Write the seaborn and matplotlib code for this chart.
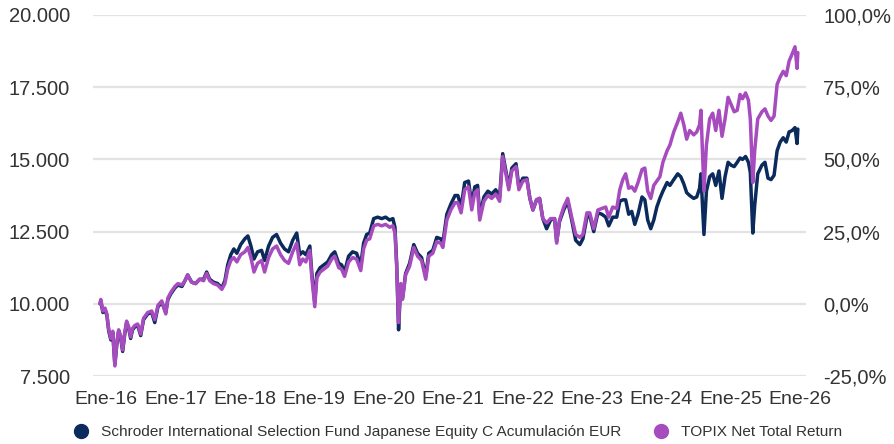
import matplotlib
matplotlib.use("Agg")
import matplotlib.pyplot as plt
import matplotlib.dates as mdates
from matplotlib.lines import Line2D
from matplotlib.ticker import FixedLocator, FuncFormatter
import seaborn as sns
import pandas as pd

fund_name = "Schroder International Selection Fund Japanese Equity C Acumulación EUR"
index_name = "TOPIX Net Total Return"

# values (base 10.000)
dates = [
    "2015-12-01", "2015-12-05", "2015-12-16", "2015-12-27",
    "2016-01-06", "2016-01-16", "2016-01-27", "2016-02-06", "2016-02-17", "2016-02-28",
    "2016-03-08", "2016-03-18", "2016-03-29", "2016-04-09", "2016-04-19", "2016-04-30",
    "2016-05-10", "2016-05-20", "2016-06-01", "2016-06-16", "2016-07-02", "2016-07-17",
    "2016-08-08", "2016-08-29", "2016-09-14", "2016-10-01", "2016-10-21", "2016-11-11",
    "2016-11-22", "2016-12-08", "2016-12-29",
    "2017-01-14", "2017-02-04", "2017-02-20", "2017-03-06", "2017-03-27", "2017-04-17",
    "2017-05-08", "2017-05-29", "2017-06-14", "2017-06-30", "2017-07-20", "2017-08-11",
    "2017-09-02", "2017-09-18", "2017-10-03", "2017-10-19", "2017-11-04", "2017-11-20",
    "2017-12-10",
    "2018-01-01", "2018-01-17", "2018-02-02", "2018-02-18", "2018-03-09", "2018-03-30",
    "2018-04-15", "2018-05-06", "2018-05-27", "2018-06-17", "2018-07-08", "2018-07-29",
    "2018-08-19", "2018-09-10", "2018-10-01", "2018-10-17", "2018-11-02", "2018-11-18",
    "2018-12-09", "2018-12-19",
    "2019-01-04", "2019-01-15", "2019-02-01", "2019-02-21", "2019-03-13", "2019-04-03",
    "2019-04-19", "2019-05-10", "2019-05-25", "2019-06-10", "2019-07-01", "2019-07-22",
    "2019-08-12", "2019-09-03", "2019-09-18", "2019-10-04", "2019-10-20", "2019-11-10",
    "2019-12-01", "2019-12-22",
    "2020-01-12", "2020-02-02", "2020-02-19", "2020-03-01", "2020-03-10", "2020-03-20",
    "2020-03-31", "2020-04-10", "2020-04-26", "2020-05-17", "2020-06-08", "2020-06-28",
    "2020-07-19", "2020-08-10", "2020-08-26", "2020-09-16", "2020-10-07", "2020-10-28",
    "2020-11-08", "2020-11-29", "2020-12-20",
    "2021-01-11", "2021-01-26", "2021-02-12", "2021-03-03", "2021-03-23", "2021-04-09",
    "2021-04-25", "2021-05-10", "2021-05-21", "2021-06-12", "2021-07-03", "2021-07-23",
    "2021-08-13", "2021-09-03", "2021-09-19", "2021-10-06", "2021-10-21", "2021-11-06",
    "2021-11-28", "2021-12-13",
    "2022-01-03", "2022-01-24", "2022-02-09", "2022-02-25", "2022-03-16", "2022-04-01",
    "2022-04-18", "2022-05-08", "2022-05-29", "2022-06-19", "2022-06-30", "2022-07-15",
    "2022-08-06", "2022-08-27", "2022-09-17", "2022-10-08", "2022-10-30", "2022-11-15",
    "2022-12-06", "2022-12-21",
    "2023-01-11", "2023-02-02", "2023-02-23", "2023-03-15", "2023-03-31", "2023-04-21",
    "2023-05-12", "2023-05-28", "2023-06-13", "2023-06-28", "2023-07-14", "2023-07-30",
    "2023-08-15", "2023-09-01", "2023-09-22", "2023-10-07", "2023-10-22", "2023-11-07",
    "2023-11-23", "2023-12-09", "2023-12-25",
    "2024-01-10", "2024-02-01", "2024-02-16", "2024-03-07", "2024-03-28", "2024-04-13",
    "2024-04-29", "2024-05-14", "2024-05-30", "2024-06-20", "2024-07-06", "2024-07-21",
    "2024-07-28", "2024-08-13", "2024-08-26", "2024-09-12", "2024-09-28", "2024-10-14",
    "2024-10-31", "2024-11-16", "2024-12-02", "2024-12-18",
    "2025-01-03", "2025-01-19", "2025-02-04", "2025-02-19", "2025-03-04", "2025-03-20",
    "2025-04-04", "2025-04-14", "2025-04-27", "2025-05-07", "2025-05-23", "2025-06-14",
    "2025-06-30", "2025-07-16", "2025-08-01", "2025-08-17", "2025-09-02", "2025-09-18",
    "2025-10-04", "2025-10-20", "2025-11-04", "2025-11-20", "2025-12-05", "2025-12-16",
    "2025-12-20",
]

topix = [
    10000, 10150, 9750, 9850,
    9650, 9100, 8800, 9050, 7850, 8700,
    9100, 8900, 8400, 9000, 9400, 9200,
    8850, 9150, 9250, 9300, 8950, 9500,
    9700, 9750, 9450, 9950, 10100, 9650,
    10200, 10400, 10600,
    10700, 10650, 10800, 11000, 10750, 10700,
    10850, 10800, 11050, 10800, 10700, 10650,
    10500, 10700, 11200, 11500, 11600, 11450,
    11700,
    11800, 11950, 11600, 11100, 11400, 11500,
    11100, 11600, 11900, 12000, 11700, 11500,
    11400, 11800, 12100, 11350, 11550, 11450,
    11850, 10950,
    9900, 10900, 11100, 11200, 11300, 11550,
    11650, 11250, 11200, 10950, 11450, 11600,
    11550, 11150, 11900, 12200, 12250, 12700,
    12750, 12700,
    12750, 12650, 12700, 12450, 11300, 9350,
    10700, 10150, 11000, 11300, 11950, 11650,
    11500, 10850, 11650, 11750, 12150, 12100,
    11950, 12900, 13250,
    13500, 13500, 13150, 13950, 14050, 13250,
    13850, 13950, 12900, 13550, 13750, 13650,
    13800, 13550, 15100, 14500, 13950, 14600,
    14750, 13950,
    14250, 14300, 13650, 13250, 13600, 13650,
    12950, 12800, 12950, 12950, 12100, 12900,
    13350, 13650, 13000, 12400, 12300, 12400,
    13150, 13150,
    12600, 13250, 13300, 13350, 13000, 13350,
    13300, 13950, 14300, 14500, 14000, 14050,
    13900, 14200, 14650, 14700, 13900, 13650,
    14100, 14250, 14400,
    14900, 15300, 15500, 15950, 16300, 16600,
    16200, 15700, 16000, 15850, 15950, 16200,
    16700, 13900, 15500, 16400, 16600, 16000,
    16700, 15800, 16400, 17150,
    16900, 16650, 16700, 17250, 17100, 17300,
    17050, 16400, 14200, 15300, 16400, 16650,
    16750, 16500, 16350, 16500, 17600, 17850,
    18050, 17900, 18400, 18650, 18900, 18150,
    18700,
]

fund = [
    10000, 10100, 9700, 9800,
    9600, 9050, 8750, 9000, 7900, 8650,
    9050, 8850, 8350, 8950, 9350, 9150,
    8800, 9100, 9200, 9250, 8900, 9450,
    9650, 9700, 9350, 9900, 10050, 9700,
    10150, 10350, 10550,
    10650, 10600, 10800, 11000, 10750, 10700,
    10850, 10850, 11100, 10850, 10750, 10700,
    10550, 10800, 11350, 11700, 11900, 11750,
    12050,
    12250, 12350, 12000, 11550, 11800, 11850,
    11500, 12000, 12300, 12400, 12100, 11900,
    11800, 12200, 12450, 11700, 11800, 11700,
    12000, 11100,
    10050, 11050, 11250, 11350, 11450, 11700,
    11800, 11400, 11350, 11100, 11650, 11800,
    11750, 11350, 12100, 12400, 12450, 12950,
    13000, 12950,
    13000, 12900, 12950, 12650, 11400, 9100,
    10650, 10200, 11050, 11400, 12050, 11750,
    11600, 10950, 11750, 11850, 12300, 12250,
    12100, 13100, 13450,
    13750, 13750, 13350, 14200, 14250, 13450,
    14050, 14100, 13050, 13700, 13900, 13800,
    13950, 13700, 15200, 14600, 14050, 14700,
    14850, 14050,
    14350, 14350, 13650, 13250, 13600, 13650,
    12950, 12600, 12900, 12950, 12150, 12850,
    13250, 13550, 12900, 12200, 12050, 12250,
    13000, 13050,
    12500, 13150, 13100, 13000, 12700, 13000,
    13000, 13550, 13600, 13600, 13100, 13200,
    12750, 13100, 13700, 13600, 12900, 12600,
    12900, 13350, 13650,
    13900, 14200, 14100, 14300, 14500, 14400,
    14150, 13850, 13750, 13650, 13700, 14000,
    14500, 12400, 13900, 14400, 14500, 14100,
    14600, 13650, 14400, 14900,
    14800, 14750, 14900, 15050, 15000, 15100,
    14900, 14550, 12450, 13400, 14500, 14800,
    14900, 14350, 14300, 14450, 15300, 15600,
    15750, 15600, 15950, 16000, 16100, 15550,
    16050,
]

year_ticks = ["2016-01-01", "2017-01-01", "2018-01-01", "2019-01-01", "2020-01-01",
              "2021-01-01", "2022-01-01", "2023-01-01", "2024-01-01", "2025-01-01",
              "2026-01-01"]
year_labels = ["Ene-16", "Ene-17", "Ene-18", "Ene-19", "Ene-20", "Ene-21",
               "Ene-22", "Ene-23", "Ene-24", "Ene-25", "Ene-26"]
value_ticks = [7500, 10000, 12500, 15000, 17500, 20000]
pct_labels = ["-25,0%", "0,0%", "25,0%", "50,0%", "75,0%", "100,0%"]

navy = "#0b2b5c"
purple = "#a64cbe"
text_col = "#333333"
grid_col = "#e3e3e3"

df = pd.DataFrame({
    "fecha": pd.to_datetime(dates * 2),
    "valor": fund + topix,
    "serie": [fund_name] * len(fund) + [index_name] * len(topix),
})

sns.set_style("white")
plt.rcParams["font.family"] = ["Liberation Sans", "DejaVu Sans"]

fig = plt.figure(figsize=(8.95, 4.44), dpi=100)
ax = fig.add_axes([93 / 895, 1 - 376 / 444, (806 - 93) / 895, (376 - 15) / 444])

sns.lineplot(
    data=df, x="fecha", y="valor", hue="serie",
    hue_order=[fund_name, index_name],
    palette=[navy, purple], linewidth=2.5, ax=ax, legend=False,
)

ax.set_ylim(7500, 20000)
ax.set_xlim(pd.Timestamp("2015-10-25"), pd.Timestamp("2026-02-01"))
ax.yaxis.set_major_locator(FixedLocator(value_ticks))
ax.yaxis.set_major_formatter(FuncFormatter(lambda v, p: f"{v:,.0f}".replace(",", ".")))
ax.set_xticks(pd.to_datetime(year_ticks))
ax.set_xticklabels(year_labels)
ax.grid(axis="y", color=grid_col, linewidth=1.6)
ax.grid(axis="x", visible=False)
ax.set_axisbelow(True)
ax.set_xlabel("")
ax.set_ylabel("")
for s in ax.spines.values():
    s.set_visible(False)
ax.tick_params(axis="y", length=0, pad=16.5, labelsize=14.5, labelcolor=text_col)
ax.tick_params(axis="x", length=0, pad=11, labelsize=14, labelcolor=text_col)

# right axis: same scale shown as % change
ax2 = ax.twinx()
ax2.set_ylim(ax.get_ylim())
ax2.yaxis.set_major_locator(FixedLocator(value_ticks))
ax2.set_yticklabels(pct_labels)
for s in ax2.spines.values():
    s.set_visible(False)
ax2.tick_params(axis="y", length=0, pad=12.5, labelsize=14.5, labelcolor=text_col)
ax2.grid(False)

handles = [
    Line2D([], [], marker="o", linestyle="", markersize=10, color=navy),
    Line2D([], [], marker="o", linestyle="", markersize=10, color=purple),
]
fig.legend(
    handles, [fund_name, index_name], loc="center", bbox_to_anchor=(0.507, 0.027),
    ncol=2, frameon=False, fontsize=11.1, handletextpad=0.3, columnspacing=1.6,
    labelcolor=text_col,
)

fig.savefig("out.png", dpi=100)
